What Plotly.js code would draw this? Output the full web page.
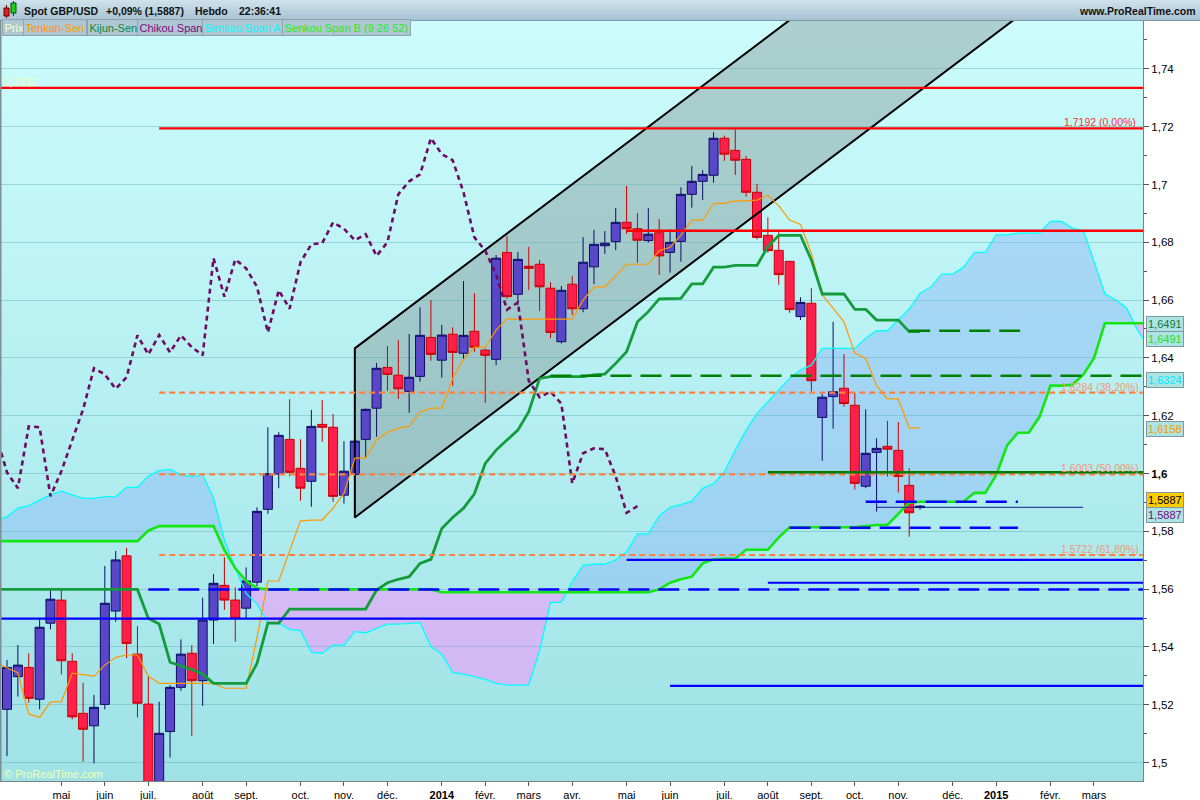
<!DOCTYPE html>
<html><head><meta charset="utf-8">
<script src="https://cdn.plot.ly/plotly-3.0.1.min.js"></script>
<style>
html,body{margin:0;padding:0;background:#fff;}
#wrap{position:relative;width:1200px;height:800px;overflow:hidden;background:#fff;}
#hdr{position:absolute;left:0;top:0;width:1200px;height:21px;background:linear-gradient(#cfe2ec,#a7c3d3);border-bottom:1px solid #7f98a6;box-sizing:border-box;}
#pbg{position:absolute;left:0;top:21px;width:1143px;height:760px;background:linear-gradient(#ccfcfc,#9fe2e6);}
#chart{position:absolute;left:0;top:0;width:1200px;height:800px;}
</style></head>
<body><div id="wrap"><div id="hdr"></div><div id="pbg"></div><div id="chart"></div></div>
<script>
// ---------- DATA (weekly candles, index 0 = first visible week) ----------
const open = [1.5184,1.5297,1.5329,1.5219,1.5482,1.5562,1.5350,1.5170,1.5127,1.5201,
1.5524,1.5715,1.5375,1.5202,1.4886,1.5107,1.5260,1.5378,1.5283,1.5493,
1.5613,1.5562,1.5534,1.5624,1.5876,1.5998,1.6118,1.6018,1.5973,1.6170,
1.6160,1.5925,1.5997,1.6118,1.6226,1.6367,1.6340,1.6284,1.6336,1.6471,
1.6392,1.6482,1.6416,1.6492,1.6427,1.6395,1.6765,1.6620,1.6717,1.6724,
1.6641,1.6456,1.6655,1.6570,1.6715,1.6788,1.6802,1.6869,1.6847,1.6806,
1.6833,1.6765,1.6803,1.6966,1.7011,1.7032,1.7160,1.7118,1.7087,1.6973,
1.6824,1.6772,1.6734,1.6543,1.6589,1.6194,1.6266,1.6295,1.6236,1.5956,
1.6073,1.6094,1.6080,1.5959,1.5882];
const high = [1.5355,1.5407,1.5378,1.5496,1.5597,1.5597,1.5378,1.5276,1.5234,1.5680,
1.5732,1.5743,1.5472,1.5297,1.5210,1.5268,1.5426,1.5406,1.5570,1.5652,
1.5710,1.5606,1.5675,1.5883,1.6160,1.6143,1.6257,1.6119,1.6220,1.6254,
1.6206,1.6112,1.6130,1.6225,1.6383,1.6441,1.6462,1.6483,1.6575,1.6600,
1.6514,1.6506,1.6666,1.6624,1.6432,1.6756,1.6822,1.6766,1.6784,1.6739,
1.6662,1.6649,1.6683,1.6818,1.6843,1.6839,1.6919,1.6995,1.6901,1.6918,
1.6880,1.6845,1.6990,1.7064,1.7050,1.7181,1.7169,1.7191,1.7099,1.7002,
1.6886,1.6835,1.6736,1.6610,1.6641,1.6275,1.6525,1.6413,1.6280,1.6222,
1.6122,1.6182,1.6178,1.6018,1.5890];
const low = [1.5022,1.5228,1.5207,1.5184,1.5461,1.5305,1.5149,1.5003,1.4997,1.5184,
1.5487,1.5361,1.5156,1.4860,1.4813,1.5017,1.5248,1.5092,1.5196,1.5410,
1.5528,1.5418,1.5499,1.5610,1.5860,1.5949,1.5990,1.5906,1.5885,1.6110,
1.5902,1.5896,1.5851,1.6056,1.6127,1.6286,1.6258,1.6210,1.6318,1.6390,
1.6332,1.6304,1.6393,1.6421,1.6245,1.6375,1.6605,1.6581,1.6635,1.6562,
1.6468,1.6450,1.6548,1.6558,1.6655,1.6760,1.6773,1.6829,1.6730,1.6799,
1.6687,1.6695,1.6733,1.6920,1.6946,1.7006,1.7082,1.7033,1.6958,1.6810,
1.6764,1.6653,1.6556,1.6531,1.6283,1.6044,1.6155,1.6231,1.5945,1.5949,
1.5868,1.5989,1.5934,1.5781,1.5875];
const close = [1.5329,1.5337,1.5222,1.5468,1.5565,1.5352,1.5158,1.5115,1.5191,1.5551,
1.5701,1.5412,1.5205,1.4886,1.5101,1.5260,1.5375,1.5283,1.5493,1.5620,
1.5562,1.5499,1.5628,1.5869,1.5999,1.6132,1.6004,1.5949,1.6163,1.6160,
1.5921,1.6008,1.6112,1.6222,1.6364,1.6343,1.6293,1.6333,1.6478,1.6412,
1.6479,1.6419,1.6478,1.6437,1.6409,1.6745,1.6612,1.6741,1.6710,1.6646,
1.6488,1.6634,1.6570,1.6731,1.6793,1.6797,1.6869,1.6847,1.6807,1.6828,
1.6753,1.6800,1.6966,1.7011,1.7035,1.7160,1.7105,1.7084,1.6973,1.6817,
1.6771,1.6688,1.6567,1.6592,1.6321,1.6264,1.6283,1.6242,1.5966,1.6070,
1.6087,1.6084,1.5990,1.5864,1.5887];

// Ichimoku lines, first value = week index -1
const tenkan = [1.5345,
1.5329,1.5311,1.5168,1.5156,1.5210,1.5210,1.5309,1.5303,1.5299,1.5337,
1.5364,1.5372,1.5372,1.5299,1.5274,1.5274,1.5274,1.5274,1.5274,1.5274,
1.5257,1.5257,1.5257,1.5433,1.5628,1.5628,1.5730,1.5836,1.5839,1.5839,
1.5880,1.5931,1.6053,1.6053,1.6116,1.6143,1.6156,1.6164,1.6212,1.6226,
1.6226,1.6329,1.6395,1.6437,1.6437,1.6497,1.6534,1.6534,1.6534,1.6534,
1.6534,1.6534,1.6534,1.6600,1.6646,1.6646,1.6683,1.6724,1.6724,1.6724,
1.6771,1.6783,1.6825,1.6877,1.6877,1.6935,1.6935,1.6943,1.6943,1.6946,
1.6963,1.6926,1.6877,1.6862,1.6762,1.6618,1.6572,1.6525,1.6416,1.6399,
1.6304,1.6258,1.6258,1.6158,1.6158];
const kijun = [1.5599,
1.5599,1.5599,1.5599,1.5599,1.5599,1.5599,1.5599,1.5599,1.5599,1.5599,
1.5599,1.5599,1.5599,1.5499,1.5479,1.5347,1.5335,1.5322,1.5306,1.5274,
1.5274,1.5274,1.5274,1.5343,1.5482,1.5482,1.5531,1.5531,1.5531,1.5531,
1.5531,1.5531,1.5531,1.5531,1.5597,1.5622,1.5634,1.5643,1.5689,1.5703,
1.5810,1.5848,1.5880,1.5930,1.6035,1.6081,1.6116,1.6150,1.6214,1.6329,
1.6335,1.6335,1.6335,1.6335,1.6341,1.6344,1.6381,1.6421,1.6525,1.6560,
1.6604,1.6606,1.6606,1.6656,1.6656,1.6714,1.6714,1.6720,1.6720,1.6720,
1.6785,1.6824,1.6824,1.6824,1.6739,1.6621,1.6621,1.6621,1.6568,1.6568,
1.6531,1.6531,1.6531,1.6491,1.6491];
const chikou = [1.6132,
1.6004,1.5949,1.6163,1.6160,1.5921,1.6008,1.6112,1.6222,1.6364,1.6343,
1.6293,1.6333,1.6478,1.6412,1.6479,1.6419,1.6478,1.6437,1.6409,1.6745,
1.6612,1.6741,1.6710,1.6646,1.6488,1.6634,1.6570,1.6731,1.6793,1.6797,
1.6869,1.6847,1.6807,1.6828,1.6753,1.6800,1.6966,1.7011,1.7035,1.7160,
1.7105,1.7084,1.6973,1.6817,1.6771,1.6688,1.6567,1.6592,1.6321,1.6264,
1.6283,1.6242,1.5966,1.6070,1.6087,1.6084,1.5990,1.5864,1.5887];
const senkouA = [1.5840,
1.5850,1.5880,1.5888,1.5908,1.5926,1.5939,1.5926,1.5914,1.5914,1.5920,
1.5920,1.5952,1.5952,1.5991,1.6010,1.6014,1.5995,1.5989,1.5995,1.5914,
1.5770,1.5672,1.5585,1.5548,1.5484,1.5482,1.5461,1.5456,1.5382,1.5378,
1.5406,1.5406,1.5453,1.5449,1.5464,1.5479,1.5479,1.5482,1.5484,1.5401,
1.5375,1.5311,1.5306,1.5297,1.5288,1.5274,1.5268,1.5268,1.5268,1.5389,
1.5554,1.5554,1.5626,1.5683,1.5686,1.5686,1.5701,1.5729,1.5791,1.5791,
1.5853,1.5883,1.5892,1.5904,1.5949,1.5964,1.6006,1.6081,1.6150,1.6208,
1.6248,1.6289,1.6329,1.6358,1.6375,1.6433,1.6433,1.6433,1.6433,1.6468,
1.6494,1.6494,1.6531,1.6569,1.6624,1.6645,1.6690,1.6690,1.6714,1.6765,
1.6765,1.6826,1.6826,1.6832,1.6832,1.6832,1.6872,1.6872,1.6849,1.6841,
1.6734,1.6621,1.6601,1.6572,1.6497,1.6440];
const senkouB = [1.5766,
1.5766,1.5766,1.5766,1.5766,1.5766,1.5766,1.5766,1.5766,1.5766,1.5766,
1.5766,1.5766,1.5766,1.5802,1.5818,1.5818,1.5818,1.5818,1.5818,1.5818,
1.5735,1.5672,1.5628,1.5603,1.5599,1.5599,1.5599,1.5599,1.5599,1.5599,
1.5599,1.5599,1.5599,1.5599,1.5599,1.5599,1.5599,1.5599,1.5599,1.5599,
1.5589,1.5589,1.5589,1.5589,1.5589,1.5589,1.5589,1.5589,1.5589,1.5589,
1.5589,1.5589,1.5589,1.5589,1.5589,1.5589,1.5589,1.5589,1.5589,1.5589,
1.5599,1.5622,1.5634,1.5643,1.5689,1.5703,1.5706,1.5706,1.5736,1.5736,
1.5736,1.5779,1.5814,1.5814,1.5814,1.5814,1.5814,1.5814,1.5814,1.5818,
1.5822,1.5822,1.5862,1.5899,1.5902,1.5902,1.5902,1.5902,1.5902,1.5933,
1.5933,1.5994,1.6097,1.6141,1.6141,1.6197,1.6304,1.6304,1.6307,1.6341,
1.6399,1.6520,1.6520,1.6520,1.6520,1.6520];

// x-axis month labels (week index of each label)
const monthIdx = [5,9,13,18,22,27,31,35,40,44,48,52,57,61,66,70,74,78,82,87,91,96,100];
const monthLbl = ['mai','juin','juil.','août','sept.','oct.','nov.','déc.','<b>2014</b>','févr.','mars','avr.','mai','juin','juil.','août','sept.','oct.','nov.','déc.','<b>2015</b>','févr.','mars'];
// y-axis ticks
const priceTicks = [1.50,1.52,1.54,1.56,1.58,1.60,1.62,1.64,1.66,1.68,1.70,1.72,1.74];
const priceTickLbl = ['1,5','1,52','1,54','1,56','1,58','<b>1,6</b>','1,62','1,64','1,66','1,68','1,7','1,72','1,74'];

// drawn trend channel (week index, lower edge, upper edge)
const channelIdx = [32, 100];
const channelLow = [1.5848, 1.7779];
const channelHigh = [1.6433, 1.8364];

// drawn horizontal levels: level, start week, end week
const redLevels = [1.7334, 1.7194, 1.6840];
const redStart = [-1, 14, 57];
const fiboLevels = [1.6280, 1.5997, 1.5718];
const fiboStart = [14, 14, 14];
const greenSolidLevels = [1.6004];
const greenSolidStart = [70];
const greenDashLevels = [1.6338, 1.6494];
const greenDashStart = [50, 83];
const greenDashEnd = [110, 93.2];
const blueDashLevels = [1.5902, 1.5812, 1.5599];
const blueDashStart = [79, 72, 13];
const blueDashEnd = [93, 93, 110];
const blueLevels = [1.5701, 1.5622, 1.5498, 1.5265];
const blueStart = [57, 70, -1, 61];
const priceLineLevel = 1.5883;
const priceLineStart = 80, priceLineEnd = 99;

// ---------- DRAWING ----------
const FONT = 'Liberation Sans, Arial, sans-serif';
const PW = 1143, PB = 781, PH = 760;
const pxX = v => v / PW;
const pxY = v => (PB - v) / PH;
const idxFrom = (arr, start) => arr.map((_, i) => i + start);
const END = 110;

const traces = [];
const shapes = [];
function polyPath(xa, ya, xb, yb){
  // forward along (xa,ya), back along (xb,yb)
  let s = 'M' + xa[0] + ',' + ya[0];
  for (let i=1;i<xa.length;i++) s += ' L' + xa[i] + ',' + ya[i];
  for (let i=xb.length-1;i>=0;i--) s += ' L' + xb[i] + ',' + yb[i];
  return s + ' Z';
}
// cloud fills (shapes below the candles)
(function(){
  const xs = idxFrom(senkouA, -1);
  const X=[], A=[], B=[];
  for (let i=0;i<xs.length;i++){
    if (i>0){
      const d0 = senkouA[i-1]-senkouB[i-1], d1 = senkouA[i]-senkouB[i];
      if (d0*d1 < 0){
        const t = d0/(d0-d1);
        const xc = xs[i-1]+t*(xs[i]-xs[i-1]);
        const yc = senkouA[i-1]+t*(senkouA[i]-senkouA[i-1]);
        X.push(xc); A.push(yc); B.push(yc);
      }
    }
    X.push(xs[i]); A.push(senkouA[i]); B.push(senkouB[i]);
  }
  const M = A.map((v,k)=>Math.max(v,B[k]));
  shapes.push({type:'path', xref:'x', yref:'y', layer:'below', path:polyPath(X,M,X,B),
    fillcolor:'rgba(140,185,246,0.47)', line:{width:0}});
  shapes.push({type:'path', xref:'x', yref:'y', layer:'below', path:polyPath(X,M,X,A),
    fillcolor:'rgba(255,140,255,0.5)', line:{width:0}});
})();
// channel fill
shapes.push({type:'path', xref:'x', yref:'y', layer:'below',
  path:polyPath(channelIdx, channelHigh, channelIdx, channelLow),
  fillcolor:'rgba(110,120,120,0.34)', line:{width:0}});

traces.push({x:idxFrom(senkouA,-1),y:senkouA,mode:'lines',line:{color:'#00FFFF',width:1.3},hoverinfo:'skip'});
traces.push({x:idxFrom(senkouB,-1),y:senkouB,mode:'lines',line:{color:'#14E614',width:2.6},hoverinfo:'skip'});

// candles
traces.push({type:'candlestick',x:idxFrom(open,0),open:open,high:high,low:low,close:close,
  increasing:{line:{color:'#0D0D66',width:1},fillcolor:'#5A47C8'},
  decreasing:{line:{color:'#CC0000',width:1},fillcolor:'#FF1F4B'},
  whiskerwidth:0,hoverinfo:'skip'});

// channel outline
traces.push({x:[channelIdx[1],channelIdx[0],channelIdx[0],channelIdx[1]],
  y:[channelHigh[1],channelHigh[0],channelLow[0],channelLow[1]],
  mode:'lines',line:{color:'#000',width:2},hoverinfo:'skip'});

traces.push({x:idxFrom(tenkan,-1),y:tenkan,mode:'lines',line:{color:'#FF9900',width:1.2},hoverinfo:'skip'});
traces.push({x:idxFrom(kijun,-1),y:kijun,mode:'lines',line:{color:'#149B3C',width:2.8},hoverinfo:'skip'});
traces.push({x:idxFrom(chikou,-1),y:chikou,mode:'lines',line:{color:'#6E0A64',width:2.6,dash:'5px,4px'},hoverinfo:'skip'});

// horizontal drawn levels
function hline(level, x0, x1, color, width, dash){
  traces.push({x:[x0,x1],y:[level,level],mode:'lines',line:{color:color,width:width,dash:dash||'solid'},hoverinfo:'skip'});
}
blueLevels.forEach((v,i)=>hline(v, blueStart[i], END, '#0000FF', 2.2));
blueDashLevels.forEach((v,i)=>hline(v, blueDashStart[i], blueDashEnd[i], '#0000FF', 2.5, '21px,9px'));
hline(priceLineLevel, priceLineStart, priceLineEnd, '#1A1A8C', 1);
fiboLevels.forEach((v,i)=>hline(v, fiboStart[i], END, '#FF8040', 2.2, '6px,4px'));
greenSolidLevels.forEach((v,i)=>hline(v, greenSolidStart[i], END, '#007A00', 2.5));
greenDashLevels.forEach((v,i)=>hline(v, greenDashStart[i], greenDashEnd[i], '#008000', 2.5, '21px,9px'));
redLevels.forEach((v,i)=>hline(v, redStart[i], END, '#FF0000', 2.3));

// ---------- ANNOTATIONS ----------
const anns = [];
function ann(text, x, y, o){
  o = o || {};
  anns.push({text:text, x:pxX(x), y:pxY(y), xref:'paper', yref:'paper', showarrow:false,
    xanchor:o.xanchor||'left', yanchor:'middle',
    font:{family:FONT, size:o.size||11, color:o.color||'#000'},
    bgcolor:o.bg||'rgba(0,0,0,0)', bordercolor:o.border||'rgba(0,0,0,0)', borderwidth:o.border?1:0, borderpad:o.pad===undefined?1:o.pad});
}
// header
ann('<b>Spot GBP/USD</b>', 23, 11, {size:10.5, color:'#111'});
ann('<b>+0,09% (1,5887)</b>', 105, 11, {size:10.5, color:'#111'});
ann('<b>Hebdo</b>', 194, 11, {size:10.5, color:'#111'});
ann('<b>22:36:41</b>', 238, 11, {size:10.5, color:'#111'});
ann('<b>www.ProRealTime.com</b>', 1197, 11, {size:10.5, color:'#111', xanchor:'right'});
// legend row
const legBg = '#AFC7D4', legBd = '#8EA4B0';
ann('Prix', 1.5, 27, {color:'#FFFFC8', bg:legBg, border:legBd, pad:1.5});
ann('Tenkan-Sen', 23, 27, {color:'#FF9900', bg:legBg, border:legBd, pad:1.5});
ann('Kijun-Sen', 86.5, 27, {color:'#0A8A3A', bg:legBg, border:legBd, pad:1.5});
ann('Chikou Span', 136.5, 27, {color:'#7A0A7A', bg:legBg, border:legBd, pad:1.5});
ann('Senkou Span A', 202, 27, {color:'#00FFFF', bg:legBg, border:legBd, pad:1.5});
ann('Senkou Span B (9 26 52)', 282, 27, {color:'#22EE22', bg:legBg, border:legBd, pad:1.5});
// level texts
ann('1,7332', 3, 82, {color:'#EEFFB0', size:10.5});
ann('1,7192 (0,00%)', 1137, 122, {color:'#FF3030', size:10.5, xanchor:'right'});
ann('1,6284 (38,20%)', 1140, 387, {color:'#EE9A78', size:10.5, xanchor:'right'});
ann('1,6003 (50,00%)', 1140, 468, {color:'#EE9A78', size:10.5, xanchor:'right'});
ann('1,5722 (61,80%)', 1140, 549, {color:'#EE9A78', size:10.5, xanchor:'right'});
ann('© ProRealTime.com', 3, 774, {color:'#F6FFB0', size:11});
// right axis value boxes
const boxBg = '#ADE3E3', boxBd = '#7C9AA2';
ann('1,6491', 1146, 324, {color:'#0A7A3A', bg:boxBg, border:boxBd});
ann('1,6491', 1146, 339, {color:'#22E022', bg:boxBg, border:boxBd});
ann('1,6324', 1146, 380, {color:'#00E8FF', bg:boxBg, border:boxBd});
ann('1,6158', 1146, 429, {color:'#FF9900', bg:boxBg, border:boxBd});
ann('1,5887', 1146, 500, {color:'#000', bg:'#FFCC00', border:boxBd});
ann('1,5887', 1146, 515, {color:'#7A0A7A', bg:boxBg, border:boxBd});

// header icon + left border
shapes.push(
  {type:'line', xref:'paper', yref:'paper', x0:pxX(0.5), x1:pxX(0.5), y0:0, y1:1, line:{color:'#7f8f96', width:2}},
  {type:'line', xref:'paper', yref:'paper', x0:pxX(6.5), x1:pxX(6.5), y0:pxY(5), y1:pxY(18), line:{color:'#800000', width:1}},
  {type:'rect', xref:'paper', yref:'paper', x0:pxX(4), x1:pxX(9), y0:pxY(8), y1:pxY(16), fillcolor:'#E02020', line:{color:'#600000', width:1}},
  {type:'line', xref:'paper', yref:'paper', x0:pxX(13.5), x1:pxX(13.5), y0:pxY(1), y1:pxY(16), line:{color:'#006000', width:1}},
  {type:'rect', xref:'paper', yref:'paper', x0:pxX(11), x1:pxX(16), y0:pxY(3), y1:pxY(13), fillcolor:'#20D020', line:{color:'#005000', width:1}}
);

const minorVals = [];
for (let k=0;k<priceTicks.length-1;k++) minorVals.push((priceTicks[k]+priceTicks[k+1])/2);
minorVals.push(1.75);

const layout = {
  width:1200, height:800,
  margin:{l:0, r:57, t:21, b:19, pad:0},
  paper_bgcolor:'rgba(0,0,0,0)', plot_bgcolor:'rgba(0,0,0,0)',
  showlegend:false, hovermode:false, dragmode:false,
  boxgap:0.08, boxgroupgap:0.1,
  xaxis:{range:[-0.644,104.51], tickmode:'array', tickvals:monthIdx, ticktext:monthLbl,
    ticks:'outside', ticklen:4, tickcolor:'#555', showgrid:false, zeroline:false,
    showline:true, linecolor:'#7f7f7f', linewidth:1, rangeslider:{visible:false},
    tickfont:{family:FONT, size:11, color:'#000'}, fixedrange:true},
  yaxis:{side:'right', range:[1.4936,1.75657], tickmode:'array', tickvals:priceTicks, ticktext:priceTickLbl,
    ticks:'outside', ticklen:5, tickcolor:'#555', showgrid:true, gridcolor:'rgba(100,175,180,0.45)', gridwidth:1,
    zeroline:false, showline:true, linecolor:'#7f7f7f', linewidth:1,
    minor:{tickmode:'array', tickvals:minorVals, ticks:'outside', ticklen:3, tickcolor:'#555', showgrid:false},
    tickfont:{family:FONT, size:11.5, color:'#000'}, fixedrange:true},
  annotations:anns, shapes:shapes
};
Plotly.newPlot('chart', traces, layout, {staticPlot:true, displayModeBar:false});
</script></body></html>
